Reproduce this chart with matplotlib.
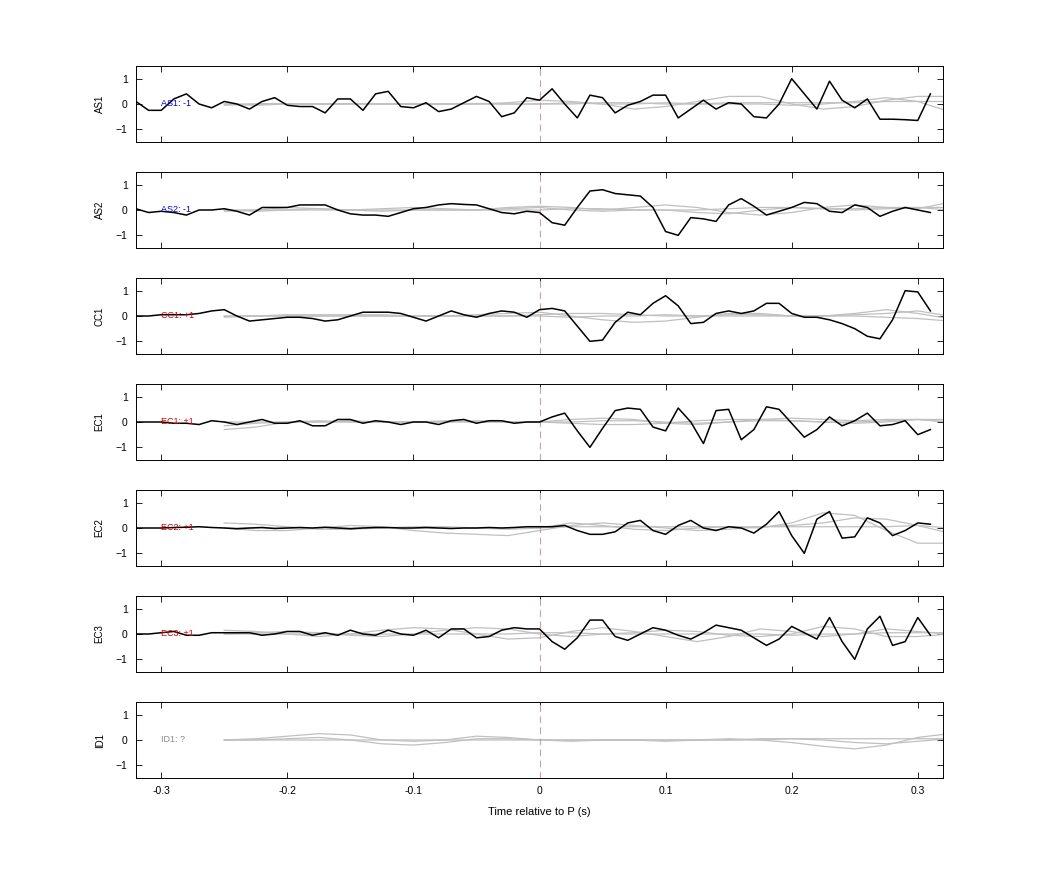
import numpy as np
import matplotlib
matplotlib.use("Agg")
import matplotlib.pyplot as plt

plt.rcParams['font.family'] = ['Liberation Sans', 'DejaVu Sans']

stations = ["AS1", "AS2", "CC1", "EC1", "EC2", "EC3", "ID1"]
polarity = ["-1", "-1", "+1", "+1", "+1", "+1", "?"]
label_colors = ["#0000cc", "#0000cc", "#cc0000", "#cc0000", "#cc0000", "#cc0000", "#888888"]

t_black = np.round(np.arange(-0.32, 0.315, 0.01), 2)

AS1 = [0.1,-0.25,-0.25,0.2,0.4,0.0,-0.15,0.1,0.0,-0.2,0.1,0.25,-0.05,-0.1,-0.1,-0.35,0.2,0.2,-0.25,0.4,0.5,-0.1,-0.15,0.05,-0.3,-0.2,0.05,0.3,0.1,-0.5,-0.35,0.25,0.15,0.6,0.0,-0.55,0.35,0.25,-0.35,-0.05,0.1,0.35,0.35,-0.55,-0.2,0.15,-0.2,0.05,0.0,-0.5,-0.55,0.0,1.0,0.4,-0.2,0.9,0.15,-0.15,0.2,-0.6,-0.6,-0.62,-0.65,0.4]
AS2 = [0.05,-0.1,-0.05,-0.1,-0.2,0.0,0.0,0.05,-0.05,-0.2,0.1,0.1,0.1,0.2,0.2,0.2,0.0,-0.15,-0.2,-0.2,-0.25,-0.1,0.05,0.1,0.2,0.25,0.22,0.2,0.05,-0.1,-0.15,-0.05,-0.1,-0.5,-0.6,0.1,0.75,0.8,0.65,0.6,0.55,0.1,-0.85,-1.0,-0.3,-0.35,-0.45,0.2,0.45,0.15,-0.2,-0.05,0.1,0.3,0.25,-0.05,-0.1,0.2,0.1,-0.25,-0.05,0.1,0.0,-0.1]
CC1 = [0.0,0.0,0.05,0.05,0.05,0.1,0.2,0.25,0.0,-0.2,-0.15,-0.1,-0.05,-0.05,-0.1,-0.2,-0.15,0.0,0.15,0.15,0.15,0.1,-0.05,-0.2,0.0,0.2,0.05,-0.05,0.1,0.2,0.15,-0.05,0.25,0.3,0.2,-0.4,-1.0,-0.95,-0.25,0.15,0.05,0.5,0.8,0.4,-0.3,-0.25,0.1,0.2,0.1,0.2,0.5,0.5,0.1,-0.05,-0.05,-0.15,-0.3,-0.5,-0.8,-0.9,-0.15,1.0,0.95,0.2]
EC1 = [0.0,0.0,0.0,-0.05,-0.05,-0.1,0.05,0.0,-0.1,0.0,0.1,-0.05,-0.05,0.05,-0.15,-0.15,0.1,0.1,-0.05,0.05,0.0,-0.1,0.0,0.0,-0.1,0.05,0.1,-0.05,0.05,0.05,-0.05,0.0,0.0,0.2,0.35,-0.35,-1.0,-0.25,0.45,0.55,0.5,-0.2,-0.35,0.55,0.0,-0.85,0.45,0.5,-0.7,-0.3,0.6,0.5,-0.05,-0.6,-0.3,0.2,-0.15,0.05,0.35,-0.15,-0.1,0.05,-0.5,-0.3]
EC2 = [0.0,0.0,0.0,0.02,0.03,0.05,0.02,0.0,-0.03,0.0,0.02,-0.02,0.0,0.02,0.0,0.03,0.0,-0.03,0.0,0.02,0.02,0.0,0.0,0.02,0.0,-0.02,0.0,0.0,0.02,0.0,0.02,0.05,0.05,0.05,0.1,-0.1,-0.25,-0.25,-0.15,0.2,0.3,-0.1,-0.25,0.1,0.3,0.0,-0.1,0.05,0.0,-0.2,0.15,0.65,-0.3,-1.0,0.35,0.65,-0.4,-0.35,0.4,0.2,-0.3,-0.1,0.2,0.15]
EC3 = [0.0,0.0,0.05,0.1,-0.05,-0.05,0.05,0.05,0.05,0.05,-0.05,0.0,0.1,0.1,-0.05,0.05,-0.05,0.15,0.0,-0.05,0.15,0.0,-0.05,0.15,-0.15,0.2,0.2,-0.15,-0.1,0.15,0.25,0.2,0.2,-0.3,-0.6,-0.15,0.55,0.55,-0.1,-0.25,0.0,0.25,0.15,-0.05,-0.2,0.05,0.35,0.25,0.15,-0.15,-0.45,-0.2,0.3,0.05,-0.2,0.65,-0.3,-1.0,0.2,0.7,-0.45,-0.3,0.65,-0.05]
black_series = [AS1, AS2, CC1, EC1, EC2, EC3, None]

t_grey = np.round(np.arange(-0.25, 0.355, 0.025), 3)
grey_series = {
    "AS1": [[0.0,-0.05,0.0,0.0,0.02,0.0,-0.02,0.0,0.0,0.05,0.15,0.1,0.0,-0.2,-0.1,0.1,0.3,0.3,0.0,-0.2,-0.1,0.15,0.3,0.3,0.5],
            [0.0,0.0,0.02,0.0,0.0,0.0,0.0,0.0,0.02,0.0,0.0,0.05,0.0,0.0,0.05,0.0,0.0,0.0,-0.05,0.0,0.1,0.25,0.1,-0.3,0.2],
            [-0.05,0.0,0.0,0.0,0.0,0.0,0.02,0.0,0.0,0.0,0.0,0.0,0.05,0.05,0.0,0.0,0.05,0.05,0.05,0.05,0.05,0.1,0.1,0.1,0.1]],
    "AS2": [[-0.05,0.0,0.1,0.05,0.0,0.05,0.1,0.05,0.0,0.1,0.15,0.1,0.0,0.1,0.2,0.1,-0.1,-0.2,-0.1,0.1,0.2,0.1,0.05,0.3,0.4],
            [0.0,-0.05,0.0,0.05,0.0,-0.05,0.0,0.0,0.0,0.05,0.1,0.0,-0.05,0.0,0.0,-0.1,-0.15,0.0,0.1,0.05,0.0,0.05,0.1,0.0,-0.3],
            [0.0,0.0,0.0,0.0,0.0,0.0,0.0,0.0,0.0,0.0,0.0,0.05,0.05,0.0,0.0,0.0,0.05,0.1,0.1,0.05,0.05,0.1,0.1,0.1,0.1]],
    "CC1": [[0.0,0.0,0.05,0.05,0.05,0.05,0.0,0.0,0.05,0.1,0.15,0.0,-0.15,-0.25,-0.2,-0.05,0.1,0.1,0.0,0.0,0.1,0.25,0.1,-0.1,-0.2],
            [0.0,0.0,0.0,0.0,0.0,0.0,0.0,0.0,0.0,0.0,0.05,0.1,0.1,0.05,0.0,0.0,0.05,0.05,0.0,0.0,0.05,0.1,0.2,0.0,0.5],
            [-0.05,0.0,0.0,0.0,0.0,0.0,0.0,0.0,0.0,0.0,0.0,-0.05,0.0,0.0,0.05,0.0,0.0,0.0,0.0,0.0,0.0,-0.05,-0.1,-0.2,-0.3]],
    "EC1": [[-0.3,-0.2,0.0,0.05,0.0,0.0,0.0,0.05,0.0,0.0,0.0,0.1,0.15,0.1,-0.05,-0.1,0.0,0.1,0.15,0.1,0.05,0.1,0.1,0.0,-0.1],
            [-0.15,-0.05,0.0,0.0,0.05,0.0,0.0,0.0,0.05,0.0,0.0,0.0,0.05,0.05,0.0,-0.05,0.0,0.05,0.05,0.0,-0.05,0.0,0.1,0.0,-0.5],
            [0.0,0.0,0.0,0.0,0.0,0.0,0.0,0.0,0.0,0.0,0.0,-0.05,-0.1,-0.1,-0.05,0.05,0.1,0.1,0.05,0.0,0.0,0.05,0.1,0.1,0.05]],
    "EC2": [[0.2,0.15,0.05,-0.05,-0.05,0.0,0.05,0.05,0.0,-0.05,0.0,0.2,0.1,-0.05,-0.1,0.0,0.05,0.0,0.2,0.6,0.5,-0.1,-0.6,-0.6,0.0],
            [0.0,-0.1,-0.1,0.0,0.1,0.05,-0.1,-0.2,-0.25,-0.3,-0.1,0.1,0.2,0.1,0.0,-0.1,-0.05,0.05,0.1,0.2,0.4,0.35,0.1,-0.2,-0.3],
            [0.0,0.0,0.0,0.0,0.0,0.0,0.0,0.0,0.0,0.0,0.0,0.05,0.05,0.05,0.05,0.05,0.05,0.05,0.05,0.05,0.05,0.05,0.1,0.0,-0.1]],
    "EC3": [[0.15,0.1,0.0,-0.1,0.0,0.15,0.25,0.2,0.0,-0.2,-0.15,0.1,0.25,0.1,-0.1,-0.3,-0.1,0.2,0.1,-0.1,0.0,0.2,0.1,0.0,-0.2],
            [0.0,0.05,0.1,0.05,-0.05,-0.1,0.0,0.15,0.25,0.2,0.0,-0.1,0.0,0.05,0.15,0.1,-0.05,-0.1,0.0,0.3,0.2,-0.1,-0.1,0.0,0.1],
            [0.0,0.0,0.0,0.0,0.0,0.0,0.0,0.0,0.0,0.0,0.05,0.05,0.0,0.0,0.0,0.0,0.0,0.0,-0.05,0.0,0.0,0.05,0.05,0.05,-0.1]],
    "ID1": [[0.0,0.05,0.15,0.25,0.2,0.0,-0.05,0.0,0.15,0.1,0.0,-0.05,0.0,0.0,-0.05,0.0,0.05,0.0,-0.1,-0.25,-0.35,-0.2,0.1,0.25,0.1],
            [0.0,0.0,0.05,0.1,0.0,-0.15,-0.2,-0.1,0.05,0.05,0.0,0.0,0.0,0.0,0.0,0.0,0.0,0.0,0.05,0.0,-0.1,-0.15,-0.05,0.05,0.1],
            [0.0,0.0,0.0,0.0,0.0,0.0,0.0,0.0,0.0,0.0,0.0,0.0,0.0,0.0,0.0,0.0,0.0,0.05,0.05,0.05,0.05,0.05,0.05,0.05,0.1]],
}

fig = plt.figure(figsize=(10.42, 8.75), dpi=100)
left, width = 136/1042, (943-136)/1042
h = 76/875
for i, st in enumerate(stations):
    top = 66 + i*106
    ax = fig.add_axes([left, 1 - (top+76)/875, width, h])
    for g in grey_series[st]:
        ax.plot(t_grey, g, color="#c0c0c0", lw=0.9)
    ax.axvline(0, color="#c8a0a0", lw=0.8, ls=(0, (6, 4)))
    if black_series[i] is not None:
        ax.plot(t_black, black_series[i], color="black", lw=1.1)
    ax.text(-0.30, 0, f"{st}: {polarity[i]}", color=label_colors[i], fontsize=6.5, va="center", ha="left")
    ax.set_xlim(-0.32, 0.32)
    ax.set_ylim(-1.5, 1.5)
    ax.set_yticks([-1, 0, 1])
    ax.set_xticks([-0.3, -0.2, -0.1, 0, 0.1, 0.2, 0.3])
    ax.tick_params(direction="in", top=True, right=True, labelsize=7.5, length=4, width=0.6, pad=6)
    ax.set_ylabel(st, fontsize=7, labelpad=8)
    for s in ax.spines.values():
        s.set_linewidth(0.7)
    if i < len(stations) - 1:
        ax.set_xticklabels([])
    else:
        ax.set_xticklabels(["-0.3", "-0.2", "-0.1", "0", "0.1", "0.2", "0.3"])
        ax.set_xlabel("Time relative to P (s)", fontsize=8, labelpad=8)

fig.savefig("out.png", dpi=100)
